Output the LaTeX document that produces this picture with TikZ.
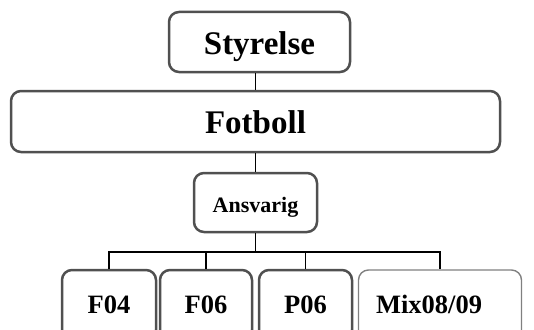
\documentclass[tikz,border=0pt]{standalone}
\usepackage{fontspec}
\setmainfont{Liberation Serif}
\usetikzlibrary{positioning}

\definecolor{boxgray}{HTML}{505050}

\tikzset{
  unit/.style={draw=boxgray, line width=2.5pt, rounded corners=10pt,
    inner sep=0pt, text depth=0pt, font=\bfseries},
  team/.style={unit, minimum height=70pt, text height=16pt,
    font=\bfseries\fontsize{26.5}{26.5}\selectfont},
  link/.style={draw=black, line width=1.8pt}
}

\begin{document}
\begin{tikzpicture}[x=1pt, y=1pt]
    \useasboundingbox (0,0) rectangle (534,-329);
    \clip (0,0) rectangle (534,-329);

    % board and section
    \node[unit, minimum width=181pt, minimum height=60pt, text height=26pt,
          font=\bfseries\fontsize{33}{33}\selectfont] (Styrelse) at (259.5,-42) {Styrelse};
    \node[unit, minimum width=489pt, minimum height=61pt, text height=23pt,
          font=\bfseries\fontsize{33}{33}\selectfont] (Fotboll) at (255.5,-121.5) {Fotboll};
    \node[unit, minimum width=123pt, minimum height=59pt, text height=19pt,
          font=\bfseries\fontsize{22}{22}\selectfont] (Ansvarig) at (255.5,-202.5) {Ansvarig};

    % teams
    \node[team, minimum width=94pt] (F04) at (109,-305) {F04};
    \node[team, minimum width=92pt] (F06) at (206,-305) {F06};
    \node[team, minimum width=93pt] (P06) at (305.5,-305) {P06};
    \node[team, minimum width=163pt, draw=gray, line width=1.4pt] (Mix) at (440,-305) {Mix08/09\kern22pt};

    \coordinate (bus) at (0,-252);

    % connectors
    \draw[link] (Styrelse.south -| Fotboll.north) -- (Fotboll.north);
    \draw[link] (Fotboll.south) -- (Ansvarig.north);
    \draw[link] (Ansvarig.south) -- (Ansvarig.south |- bus);
    \draw[link] (F04.north) |- (Mix.north |- bus) -- (Mix.north);
    \draw[link] (F06.north) -- (F06.north |- bus);
    \draw[link] (P06.north) -- (P06.north |- bus);
\end{tikzpicture}
\end{document}
